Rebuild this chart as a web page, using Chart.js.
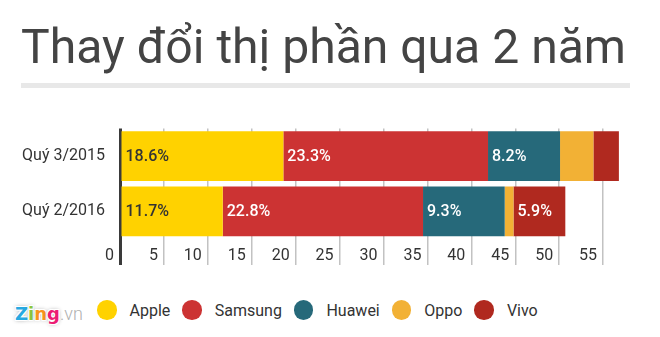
<!DOCTYPE html>
<html>
<head>
<meta charset="utf-8">
<script src="https://cdn.jsdelivr.net/npm/chart.js@4/dist/chart.umd.min.js"></script>
<style>
html,body{margin:0;padding:0;background:#fff;width:660px;height:337px;overflow:hidden;font-family:Roboto,"Noto Sans",sans-serif;}
#title{position:absolute;left:21px;top:22px;font-size:49px;line-height:1;color:#444;white-space:nowrap;transform-origin:0 0;}
#rule{position:absolute;left:21px;top:83px;width:609px;height:5px;background:#e8e8e8;}
#wrap{position:absolute;left:0;top:0;width:660px;height:269px;}
#legend{position:absolute;left:97px;top:300px;height:20px;display:flex;align-items:center;}
.item{display:flex;align-items:center;margin-right:12px;height:20px;}
.dot{width:19.5px;height:19.5px;border-radius:50%;margin-right:13px;}
.lab{font-size:16px;line-height:20px;color:#333;position:relative;top:1px;}
#logo{position:absolute;left:15px;top:305px;line-height:1;white-space:nowrap;}
#logo .z{font-family:"DejaVu Sans",sans-serif;font-weight:bold;font-size:18px;
  text-shadow:-1px -1px 0 #fff,1px 1px 0 #fff,-1px 1px 0 #fff,1px -1px 0 #fff,0 0 4px rgba(0,0,0,0.45);}
#logo .vn{font-family:Roboto,sans-serif;font-weight:300;font-size:18px;color:#b0b0b0;}
</style>
</head>
<body>
<div id="title">Thay đổi thị phần qua 2 năm</div>
<div id="rule"></div>
<div id="wrap"><canvas id="c"></canvas></div>
<div id="logo"><span class="z" style="color:#27a9e1">Z</span><span class="z" style="color:#8cc63e">i</span><span class="z" style="color:#f7941d">n</span><span class="z" style="color:#ec1c74">g</span><span class="vn">.vn</span></div>
<div id="legend"></div>
<script>
// ---- data ----
const categories = ["Quý 3/2015", "Quý 2/2016"];
const seriesNames = ["Apple", "Samsung", "Huawei", "Oppo", "Vivo"];
const apple   = [18.6, 11.7];
const samsung = [23.3, 22.8];
const huawei  = [8.2, 9.3];
const oppo    = [3.8, 1.0];
const vivo    = [2.9, 5.9];
const seriesValues = [apple, samsung, huawei, oppo, vivo];
const seriesColors = ["#FFD200", "#CC3333", "#26697A", "#F2B135", "#B0291F"];
const labelColors  = ["#333333", "#FFFFFF", "#FFFFFF", "#FFFFFF", "#FFFFFF"];
const xTicksMin = 0, xTicksMax = 60, xTickStep = 5;
const minLabelValue = 5;

// title fit
(function(){
  const t = document.getElementById('title');
  const w = t.getBoundingClientRect().width;
  const k = 605 / w;
  t.style.transform = 'scaleX(' + k + ')';
})();

// legend
const legend = document.getElementById('legend');
seriesNames.forEach((n, i) => {
  const it = document.createElement('div'); it.className = 'item';
  const d = document.createElement('div'); d.className = 'dot'; d.style.background = seriesColors[i];
  const l = document.createElement('span'); l.className = 'lab'; l.textContent = n;
  it.appendChild(d); it.appendChild(l); legend.appendChild(it);
});

const barLabels = {
  id: 'barLabels',
  afterDatasetsDraw(chart) {
    const ctx = chart.ctx;
    chart.data.datasets.forEach((ds, i) => {
      const meta = chart.getDatasetMeta(i);
      meta.data.forEach((el, j) => {
        const v = ds.data[j];
        if (v < minLabelValue) return;
        ctx.save();
        ctx.font = '500 16px Roboto';
        ctx.fillStyle = labelColors[i];
        ctx.textAlign = 'left';
        ctx.textBaseline = 'middle';
        ctx.fillText(v.toFixed(1) + '%', Math.min(el.base, el.x) + 4, el.y + 1);
        ctx.restore();
      });
    });
  }
};

new Chart(document.getElementById('c'), {
  type: 'bar',
  data: {
    labels: categories,
    datasets: seriesNames.map((n, i) => ({
      label: n,
      data: seriesValues[i],
      backgroundColor: seriesColors[i],
      borderWidth: 0,
      categoryPercentage: 1,
      barPercentage: 0.9
    }))
  },
  options: {
    indexAxis: 'y',
    responsive: true,
    maintainAspectRatio: false,
    animation: false,
    layout: { padding: { top: 128.5, left: 0, right: 13, bottom: 0 } },
    plugins: { legend: { display: false }, tooltip: { enabled: false } },
    scales: {
      x: {
        stacked: true,
        min: xTicksMin, max: xTicksMax,
        afterFit(s) { s.height = 30; },
        border: { display: false },
        grid: {
          drawTicks: true,
          tickLength: 26,
          color: c => c.tick && c.tick.value === 0 ? '#3a3a3a' : (c.tick && c.tick.value === xTicksMax ? 'rgba(0,0,0,0)' : '#c2c2c2'),
          lineWidth: c => c.tick && c.tick.value === 0 ? 3 : 1.5
        },
        ticks: {
          stepSize: xTickStep,
          align: 'end',
          labelOffset: -6,
          padding: -19,
          color: '#333',
          font: { family: 'Roboto', size: 16 },
          callback: v => v === xTicksMax ? '' : String(v)
        }
      },
      y: {
        stacked: true,
        afterFit(s) { s.width = 120; },
        border: { display: false },
        grid: { display: false },
        ticks: { padding: 7, color: '#333', font: { family: 'Roboto', size: 16 } }
      }
    }
  },
  plugins: [barLabels]
});
</script>
</body>
</html>
